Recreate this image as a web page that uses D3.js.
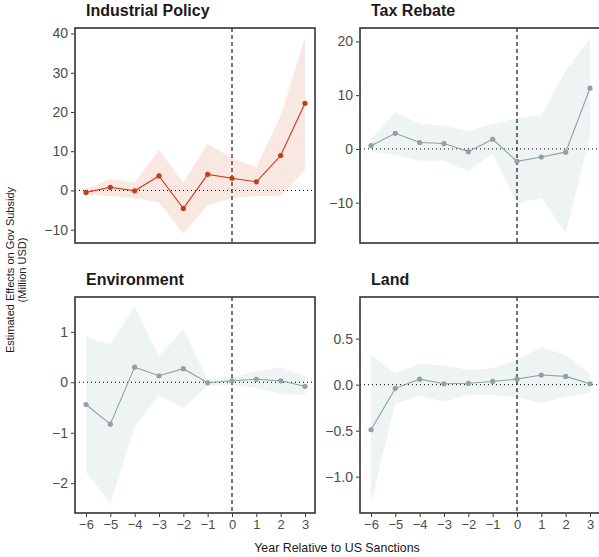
<!DOCTYPE html>
<html>
<head>
<meta charset="utf-8">
<script src="https://cdn.jsdelivr.net/npm/d3@7"></script>
<style>
  body { margin: 0; background: #fff; }
  svg text { font-family: "Liberation Sans", Arial, sans-serif; }
</style>
</head>
<body>
<svg id="chart" width="599" height="557"></svg>
<script>
const years = [-6, -5, -4, -3, -2, -1, 0, 1, 2, 3];

// Industrial Policy
const indEst = [-0.5, 0.8, -0.1, 3.7, -4.6, 4.1, 3.1, 2.2, 8.9, 22.2];
const indLo = [-1.1, -1.4, -2.0, -3.0, -11.0, -3.8, -2.0, -1.4, -1.4, 5.2];
const indHi = [0.3, 2.9, 2.0, 10.3, 2.0, 11.9, 8.2, 5.9, 19.0, 39.0];

// Tax Rebate
const taxEst = [0.6, 2.9, 1.2, 1.0, -0.5, 1.8, -2.3, -1.5, -0.6, 11.3];
const taxLo = [-0.5, -1.1, -2.2, -2.2, -4.1, -0.9, -10.2, -9.1, -15.6, 2.2];
const taxHi = [1.8, 6.8, 4.7, 4.3, 3.4, 4.6, 5.7, 6.2, 14.6, 20.6];

// Environment
const envEst = [-0.44, -0.83, 0.30, 0.13, 0.27, -0.01, 0.03, 0.06, 0.03, -0.08];
const envLo = [-1.78, -2.40, -0.88, -0.25, -0.51, -0.07, -0.05, -0.11, -0.23, -0.25];
const envHi = [0.90, 0.75, 1.50, 0.51, 1.05, 0.06, 0.10, 0.22, 0.30, 0.12];

// Land
const landEst = [-0.49, -0.04, 0.06, 0.01, 0.015, 0.035, 0.06, 0.105, 0.09, 0.01];
const landLo = [-1.28, -0.21, -0.12, -0.185, -0.11, -0.11, -0.14, -0.20, -0.13, -0.09];
const landHi = [0.32, 0.13, 0.225, 0.21, 0.16, 0.18, 0.27, 0.41, 0.32, 0.12];

const panels = [
  { title: 'Industrial Policy', est: indEst, lo: indLo, hi: indHi,
    domain: [-13.4, 41.4], ticks: [-10, 0, 10, 20, 30, 40], fmt: d3.format('d'),
    line: '#cb391b', band: '#f9e7e1', vdash: 'grey',
    x0: 75, x1: 315, y0: 28, y1: 243, showX: false },
  { title: 'Tax Rebate', est: taxEst, lo: taxLo, hi: taxHi,
    domain: [-17.5, 22.5], ticks: [-10, 0, 10, 20], fmt: d3.format('d'),
    line: '#8fa2a6', band: '#eef3f3', vdash: 'black',
    x0: 360, x1: 602, y0: 28, y1: 243, showX: false },
  { title: 'Environment', est: envEst, lo: envLo, hi: envHi,
    domain: [-2.59, 1.69], ticks: [-2, -1, 0, 1], fmt: d3.format('d'),
    line: '#8fa2a6', band: '#eef3f3', vdash: 'grey',
    x0: 75, x1: 315, y0: 297, y1: 513, showX: true },
  { title: 'Land', est: landEst, lo: landLo, hi: landHi,
    domain: [-1.395, 0.953], ticks: [-1.0, -0.5, 0.0, 0.5], fmt: d3.format('.1f'),
    line: '#8fa2a6', band: '#eef3f3', vdash: 'black',
    x0: 360, x1: 602, y0: 297, y1: 513, showX: true }
];

const svg = d3.select('#chart');
const step = (305 - 86) / 9; // same spacing in every panel

panels.forEach((p) => {
  const x = d3.scaleLinear()
    .domain([-6, 3])
    .range([p.x0 + 11, p.x0 + 11 + step * 9]);

  const y = d3.scaleLinear().domain(p.domain).range([p.y1, p.y0]);

  const g = svg.append('g');
  const rows = years.map((yr, i) => ({ yr, est: p.est[i], lo: p.lo[i], hi: p.hi[i] }));

  g.append('path')
    .datum(rows)
    .attr('fill', p.band)
    .attr('d', d3.area().x((d) => x(d.yr)).y0((d) => y(d.lo)).y1((d) => y(d.hi)));

  // zero line
  g.append('line')
    .attr('x1', p.x0).attr('x2', p.x1)
    .attr('y1', y(0)).attr('y2', y(0))
    .attr('stroke', '#000').attr('stroke-width', 1)
    .attr('stroke-dasharray', '1,3');

  // sanction year
  g.append('line')
    .attr('x1', x(0)).attr('x2', x(0))
    .attr('y1', p.y0).attr('y2', p.y1)
    .attr('stroke', p.vdash === 'grey' ? '#555' : '#000')
    .attr('stroke-width', p.vdash === 'grey' ? 1.6 : 1.1)
    .attr('stroke-dasharray', '4,3');

  g.append('path')
    .datum(rows)
    .attr('fill', 'none')
    .attr('stroke', p.line)
    .attr('stroke-width', 1.1)
    .attr('d', d3.line().x((d) => x(d.yr)).y((d) => y(d.est)));

  g.selectAll('circle')
    .data(rows)
    .enter()
    .append('circle')
    .attr('cx', (d) => x(d.yr))
    .attr('cy', (d) => y(d.est))
    .attr('r', 2.6)
    .attr('fill', p.line);

  g.append('rect')
    .attr('x', p.x0).attr('y', p.y0)
    .attr('width', p.x1 - p.x0).attr('height', p.y1 - p.y0)
    .attr('fill', 'none').attr('stroke', '#333').attr('stroke-width', 1.6);

  const leftAxis = d3.axisLeft(y)
    .tickValues(p.ticks)
    .tickFormat((d) => p.fmt(d).replace('-', '\u2212'))
    .tickSize(3)
    .tickPadding(3);
  const ya = g.append('g')
    .attr('transform', `translate(${p.x0 - 1}, 0)`)
    .call(leftAxis);
  ya.select('.domain').remove();
  ya.selectAll('.tick line').attr('stroke', '#333');
  ya.selectAll('.tick text').attr('fill', '#4d4d4d').style('font-size', '14px');

  if (p.showX) {
    const bottomAxis = d3.axisBottom(x)
      .tickValues(years)
      .tickFormat((d) => String(d).replace('-', '\u2212'))
      .tickSize(3)
      .tickPadding(3);
    const xa = g.append('g')
      .attr('transform', `translate(0, ${p.y1 + 1})`)
      .call(bottomAxis);
    xa.select('.domain').remove();
    xa.selectAll('.tick line').attr('stroke', '#333');
    xa.selectAll('.tick text').attr('fill', '#4d4d4d').style('font-size', '13px');
  }

  g.append('text')
    .text(p.title)
    .attr('x', p.x0 + 11)
    .attr('y', p.y0 - 12)
    .style('font-size', '16px')
    .style('font-weight', 'bold')
    .attr('fill', '#1a1a1a');
});

svg.append('text')
  .text('Year Relative to US Sanctions')
  .attr('x', 337)
  .attr('y', 552)
  .attr('text-anchor', 'middle')
  .style('font-size', '12.4px')
  .attr('fill', '#1a1a1a');

const yTitle = svg.append('text')
  .attr('transform', 'translate(14, 270) rotate(-90)')
  .attr('text-anchor', 'middle')
  .style('font-size', '11px')
  .attr('fill', '#1a1a1a');
yTitle.append('tspan').attr('x', 0).attr('dy', 0).text('Estimated Effects on Gov Subsidy');
yTitle.append('tspan').attr('x', 0).attr('dy', 12).text('(Million USD)');
</script>
</body>
</html>
